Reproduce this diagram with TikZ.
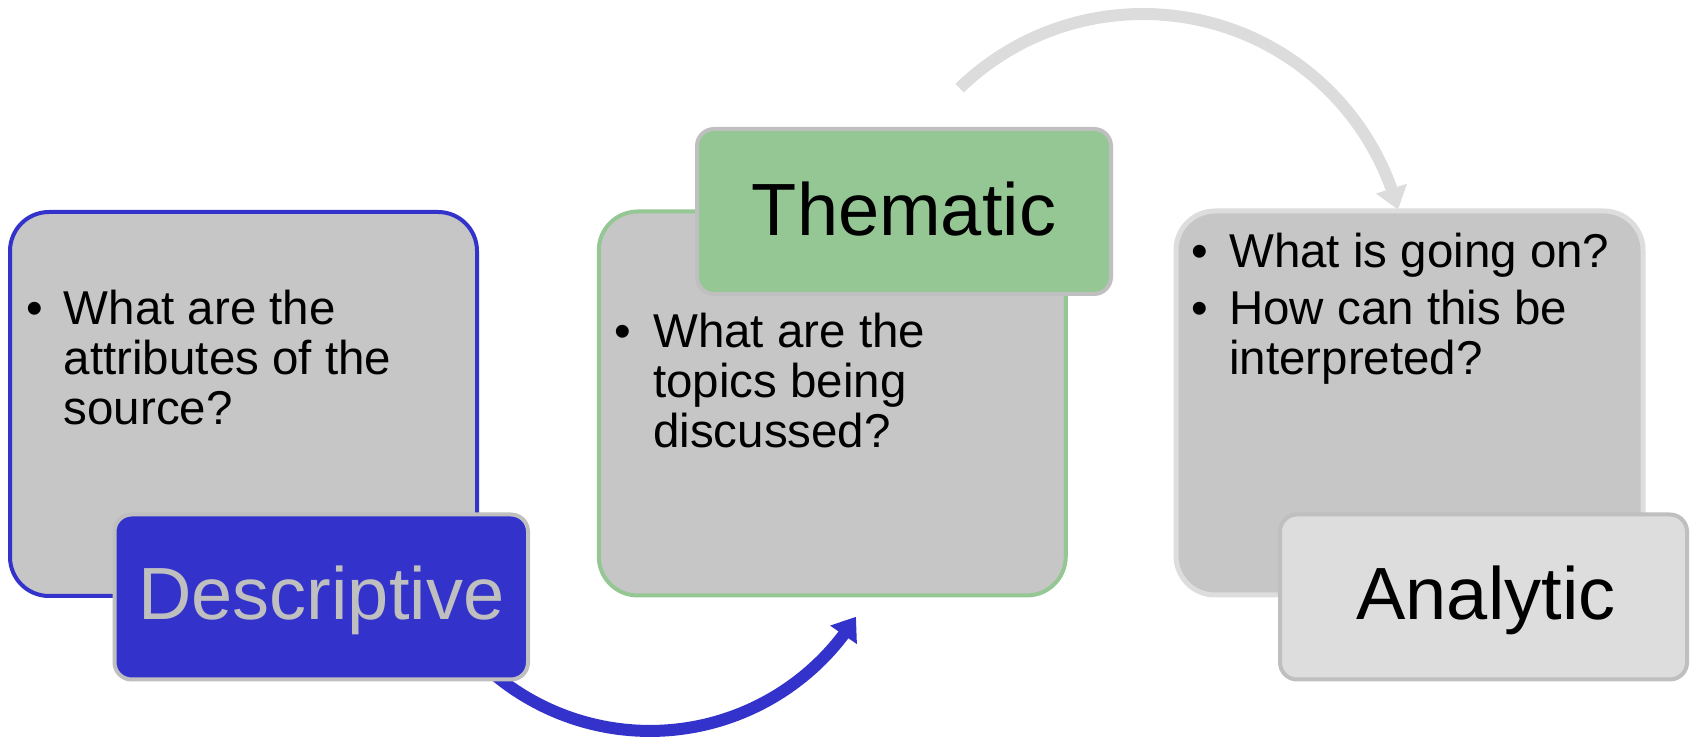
\documentclass[tikz,border=0pt]{standalone}
\usepackage{fontspec}
\setmainfont{Liberation Sans}
\usetikzlibrary{arrows.meta,bending}
\definecolor{dblue}{HTML}{3333CC}
\definecolor{boxgray}{HTML}{C6C6C6}
\definecolor{labgray}{HTML}{BFBFBF}
\definecolor{tgreen}{HTML}{95C795}
\definecolor{lgray}{HTML}{DDDDDD}
\definecolor{agray}{HTML}{DCDCDC}
\tikzset{
  bigbox/.style={rectangle, rounded corners=39pt, line width=4pt, fill=boxgray, inner sep=0pt,
    minimum width=467pt, minimum height=384pt},
  labelbox/.style={rectangle, rounded corners=17pt, line width=4pt, draw=labgray, inner sep=0pt,
    minimum height=165pt},
  bullettext/.style={anchor=base west, inner sep=0pt, font=\fontsize{47.5}{50}\selectfont},
  bulletdot/.style={anchor=base, inner sep=0pt, font=\fontsize{47.5}{50}\selectfont},
  labeltext/.style={anchor=base, inner sep=0pt, font=\fontsize{74}{80}\selectfont},
  conn/.style={line width=12pt, -{Triangle[width=31pt,length=22pt]}}
}
\begin{document}
\begin{tikzpicture}[x=1pt,y=1pt]
\useasboundingbox (0,0) rectangle (1690,742);
% connectors
\coordinate (b0) at (496,66);
\draw[conn, draw=dblue] (b0) arc[start angle=230.7, end angle=328, radius=243];
\coordinate (g0) at (959.6,653.9);
\draw[conn, draw=agray] (g0) arc[start angle=134, end angle=15, radius=264];
% Descriptive
\node[bigbox, draw=dblue] (box1) at (243.5,338) {};
\node[labelbox, fill=dblue, minimum width=413.5pt] (lab1) at (321.25,145) {};
\node[labeltext, text=labgray] (t1) at (321.25,122) {Descriptive};
\node[bulletdot] (d1) at (35,417) {•};
\node[bullettext] (q1) at (63.6,417) {\begin{tabular}[t]{@{}l@{}}What are the\\attributes of the\\source?\end{tabular}};
% Thematic
\node[bigbox, draw=tgreen] (box2) at (832.25,338.5) {};
\node[labelbox, fill=tgreen, minimum width=414pt] (lab2) at (904,530.5) {};
\node[labeltext] (t2) at (904,506) {Thematic};
\node[bulletdot] (d2) at (623,394) {•};
\node[bullettext] (q2) at (653,394) {\begin{tabular}[t]{@{}l@{}}What are the\\topics being\\discussed?\end{tabular}};
% Analytic
\node[bigbox, draw=lgray, line width=5pt] (box3) at (1409.5,339) {};
\node[labelbox, fill=lgray, minimum width=407pt] (lab3) at (1483.5,145) {};
\node[labeltext] (t3) at (1486,122) {Analytic};
\node[bulletdot] (d3) at (1200,474) {•};
\node[bullettext] (q3) at (1229,474) {What is going on?};
\node[bulletdot] (d4) at (1200,417) {•};
\node[bullettext] (q4) at (1229,417) {\begin{tabular}[t]{@{}l@{}}How can this be\\interpreted?\end{tabular}};
\end{tikzpicture}
\end{document}
